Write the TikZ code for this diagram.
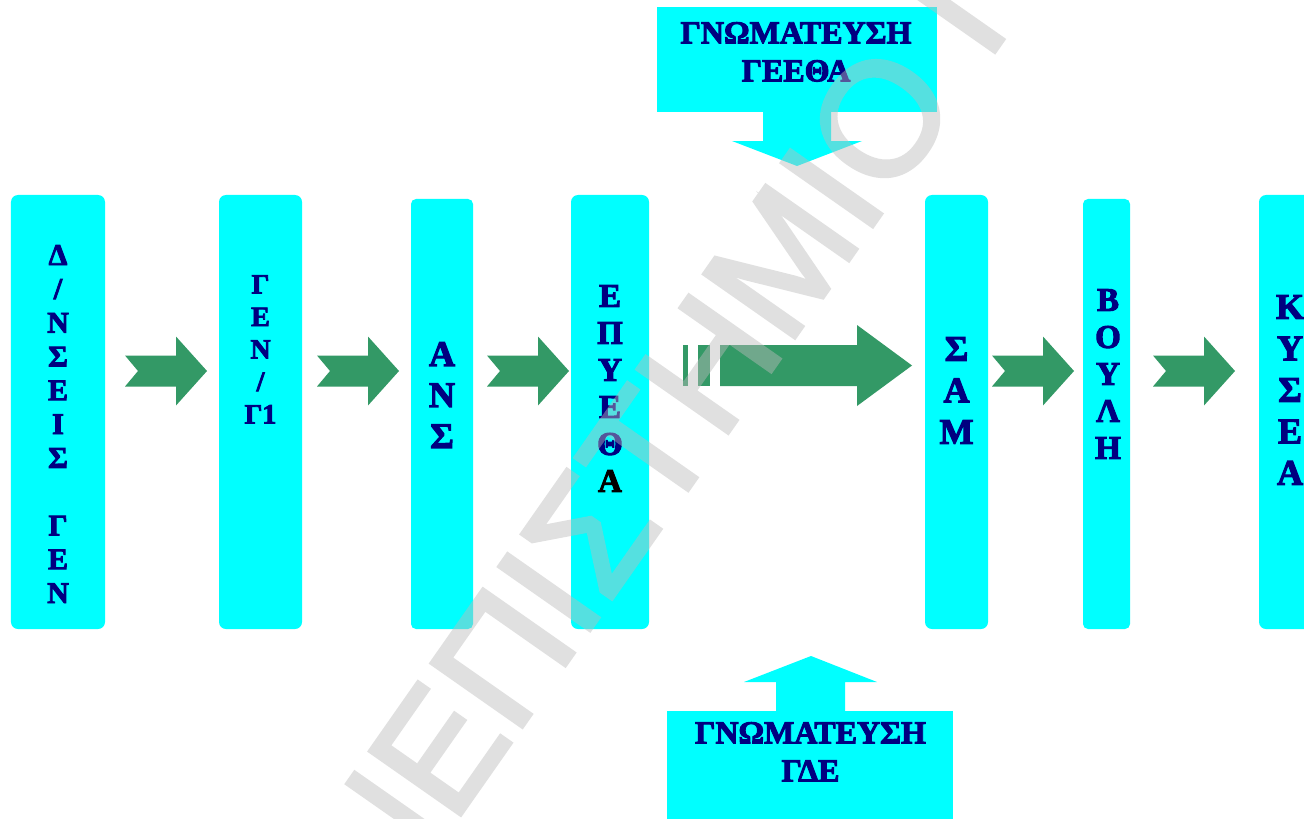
\documentclass[tikz,border=0pt]{standalone}
\usepackage{fontspec}
\setmainfont{Liberation Serif}
\newfontfamily\diagfont[FakeBold=3]{Liberation Serif Bold}
\newfontfamily\wmfont[FakeBold=2.5]{Liberation Sans}
\usetikzlibrary{calc}
\definecolor{boxcyan}{RGB}{0,255,255}
\definecolor{arrowgreen}{RGB}{51,153,102}
\definecolor{txtnavy}{RGB}{0,0,128}
\definecolor{wmgray}{RGB}{187,187,187}
\newcommand{\fsz}[2]{\diagfont\fontsize{#1bp}{#2bp}\selectfont}
\tikzset{
  colbox/.style={fill=boxcyan, draw=none, rounded corners=7bp, inner sep=0pt, minimum height=434bp},
  coltext/.style={anchor=north, inner sep=0pt, align=center, text=txtnavy},
  callbox/.style={fill=boxcyan, draw=none, inner sep=0pt},
  blockarrow/.style={fill=arrowgreen, draw=none},
  pics/notcharrow/.style={code={
    \fill[blockarrow] (0,-15.5) -- (51,-15.5) -- (51,-34.5) -- (82,0) -- (51,34.5) -- (51,15.5) -- (0,15.5) -- (13,0) -- cycle;
  }},
  wmark/.style={anchor=base west, rotate=55, inner sep=0pt, text=wmgray,
    font=\wmfont\fontsize{161bp}{161bp}\selectfont},
}
\begin{document}
\begin{tikzpicture}[x=1bp,y=-1bp]
\useasboundingbox (0,0) rectangle (1304,818);
\fill[white] (0,0) rectangle (1304,818);
\clip (0,0) rectangle (1304,818);

% column boxes
\node[colbox, minimum width=94bp] (b1) at (58,412) {};
\node[colbox, minimum width=83bp] (b2) at (260.5,412) {};
\node[colbox, minimum width=62bp, minimum height=430bp, rounded corners=5bp] (b3) at (442,414) {};
\node[colbox, minimum width=78bp] (b4) at (610,412) {};
\node[colbox, minimum width=63bp] (b5) at (956.5,412) {};
\node[colbox, minimum width=47bp, minimum height=430bp, rounded corners=5bp] (b6) at (1106.5,414) {};
\node[colbox, minimum width=62bp] (b7) at (1290,412) {};

% column texts
\node[coltext, font=\fsz{30}{33.8}] (t1) at (58,245) {Δ\\/\\Ν\\Σ\\Ε\\Ι\\Σ\\~\\Γ\\Ε\\Ν};
\node[coltext, font=\fsz{28}{32.5}] (t2) at (260.5,275) {Γ\\Ε\\Ν\\/\\Γ1};
\node[coltext, font=\fsz{36}{41}] (t3) at (442,342) {Α\\Ν\\Σ};
\node[coltext, font=\fsz{33}{37}] (t4) at (610,285) {Ε\\Π\\Υ\\Ε\\Θ\\\textcolor{black}{Α}};
\node[coltext, font=\fsz{36}{41.5}] (t5) at (956.5,337) {Σ\\Α\\Μ};
\node[coltext, font=\fsz{33}{37}] (t6) at (1108,289) {Β\\Ο\\Υ\\Λ\\Η};
\node[coltext, font=\fsz{36}{41.5}] (t7) at (1290,295) {Κ\\Υ\\Σ\\Ε\\Α};

% notched block arrows
\pic at (125,371) {notcharrow};
\pic at (317,371) {notcharrow};
\pic at (487,371) {notcharrow};
\pic at (992,371) {notcharrow};
\pic at (1153,371) {notcharrow};

% striped big arrow
\fill[blockarrow] (683,345) rectangle (688,386);
\fill[blockarrow] (698,345) rectangle (710,386);
\fill[blockarrow] (720,345) -- (857,345) -- (857,325) -- (912,365.5) -- (857,406) -- (857,386) -- (720,386) -- cycle;

% top callout
\node[callbox, minimum width=280bp, minimum height=105bp] (gee) at (797,59.5) {};
\fill[boxcyan] (763,111) -- (831,111) -- (831,141) -- (862,141) -- (797,166) -- (732,141) -- (763,141) -- cycle;
\node[coltext, font=\fsz{32}{38}] (geetxt) at (796,22) {ΓΝΩΜΑΤΕΥΣΗ\\ΓΕΕΘΑ};

% bottom callout
\node[callbox, minimum width=286bp, minimum height=120bp] (gde) at (810,771) {};
\fill[boxcyan] (776,712) -- (845,712) -- (845,682) -- (877,682) -- (811,656) -- (744,682) -- (776,682) -- cycle;
\node[coltext, font=\fsz{32}{38}] (gdetxt) at (810.5,722) {ΓΝΩΜΑΤΕΥΣΗ\\ΓΔΕ};

% watermark
\begin{scope}[transparency group, opacity=0.455]
\node[wmark] (wm) at (258,1104) {ΠΑΝΕΠΙΣΤΗΜΙΟ ΠΕΙΡΑΙΩΣ};
\end{scope}
\end{tikzpicture}
\end{document}
